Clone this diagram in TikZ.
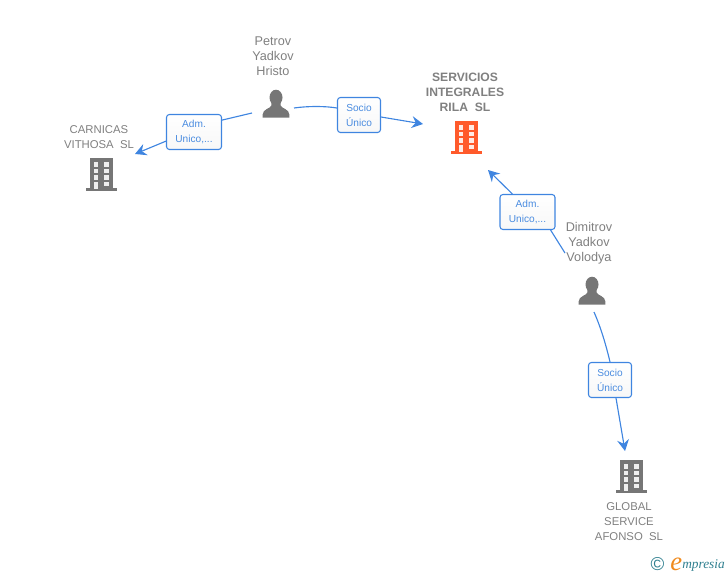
\documentclass[tikz,border=0pt]{standalone}
\usepackage{fontspec}
\setmainfont{Liberation Sans}
\newfontfamily\logofont{Liberation Serif}
\usetikzlibrary{arrows.meta}
\definecolor{linkblue}{HTML}{3F85E0}
\definecolor{labelblue}{HTML}{4A8CE0}
\definecolor{icongray}{HTML}{767676}
\definecolor{textgray}{HTML}{808080}
\definecolor{hotorange}{HTML}{FF5A2B}
\definecolor{logoteal}{HTML}{2F7F8F}
\definecolor{logoorange}{HTML}{F08A1D}
\tikzset{
  x=0.75pt,y=-0.75pt,
  nametext/.style={font=\fontsize{9.5pt}{11.25pt}\selectfont,text=textgray,align=center,inner sep=0pt},
  captext/.style={nametext,font=\fontsize{8.5pt}{11.25pt}\selectfont},
  boldtext/.style={nametext,font=\fontsize{9.1pt}{11.25pt}\selectfont\bfseries},
  linkbox/.style={draw=linkblue,line width=0.8pt,rounded corners=2.2pt,top color=white,bottom color=black!3,
    text=labelblue,font=\fontsize{7.6pt}{11.25pt}\selectfont,align=center,inner sep=0pt},
  link/.style={draw=linkblue,line width=0.85pt},
  arrowlink/.style={link,-{Stealth[length=8.5pt,width=9pt,inset=3pt]}},
  pics/building/.style={code={
    \fill[#1] (-11.5,0) rectangle (11.5,31);
    \fill[#1] (-15.5,30) rectangle (16,33);
    \foreach \yy in {4.2,10.8,17.4}{
      \fill[white!88!#1] (-7.5,\yy) rectangle (-3,\yy+4.4);
      \fill[white!88!#1] (2.5,\yy) rectangle (7.5,\yy+4.4);
    }
    \fill[white!88!#1] (-7.5,23.7) rectangle (-3,31);
    \fill[white!88!#1] (2.5,23.7) rectangle (7.5,28);
  }},
  pics/person/.style={code={
    \fill[icongray] (0,0) ellipse (6.5 and 7.8);
    \fill[icongray] (-4.6,4) -- (4.6,4) -- (4.6,8) .. controls (5.5,11) and (13.2,11.5) .. (13.4,17)
      -- (13.4,20) -- (-13.4,20) -- (-13.4,17) .. controls (-13.2,11.5) and (-5.5,11) .. (-4.6,8) -- cycle;
  }}
}
\begin{document}
\begin{tikzpicture}
\useasboundingbox (0,0) rectangle (728,575);

% names
\node[nametext] (petrov) at (273,56) {Petrov\\Yadkov\\Hristo};
\node[captext] (carnicas) at (99,137) {CARNICAS\\VITHOSA\ \ SL};
\node[boldtext] (servicios) at (465,92) {SERVICIOS\\INTEGRALES\\RILA\ \ SL};
\node[nametext] (dimitrov) at (589,243) {Dimitrov\\Yadkov\\Volodya};
\node[captext] (global) at (629,521.5) {GLOBAL\\SERVICE\\AFONSO\ \ SL};

% icons
\pic at (276,97.5) {person};
\pic at (592,284.5) {person};
\pic at (101,158) {building=icongray};
\pic at (466,121) {building=hotorange};
\pic at (631,460) {building=icongray};

% link labels
\node[linkbox,minimum width=55pt*0.75,minimum height=35pt*0.75] (adm1) at (194,132) {Adm.\\Unico,...};
\node[linkbox,minimum width=43pt*0.75,minimum height=35pt*0.75] (socio1) at (359,115) {Socio\\Único};
\node[linkbox,minimum width=55pt*0.75,minimum height=35pt*0.75] (adm2) at (527.5,212) {Adm.\\Unico,...};
\node[linkbox,minimum width=43pt*0.75,minimum height=35pt*0.75] (socio2) at (610,380) {Socio\\Único};

% free ends
\coordinate (p1) at (252,113);
\coordinate (c1) at (135,154);
\coordinate (p2) at (294,108);
\coordinate (s1) at (423,124);
\coordinate (d1) at (565,253);
\coordinate (s2) at (488,170);
\coordinate (d2) at (594,312);
\coordinate (g1) at (625,451);

% connectors
\draw[link] (p1) -- (adm1.23);
\draw[arrowlink] (adm1.198) -- (c1);
\draw[link] (p2) .. controls (308,106) and (325,106) .. (socio1.west |- 0,108);
\draw[arrowlink] (socio1.east |- 0,117) -- (s1);
\draw[link] (d1) -- (adm2.-38);
\draw[arrowlink] (adm2.130) -- (s2);
\draw[link] (d2) .. controls (601,328) and (606,345) .. (socio2.north -| 610,0);
\draw[arrowlink] (socio2.south -| 616,0) -- (g1);

% logo
\node[inner sep=0pt,text=logoteal,font=\fontsize{14pt}{14pt}\selectfont] (copyr) at (657.5,564) {\char"00A9};
\node[inner sep=0pt,anchor=base west,text=logoorange,font=\fontsize{20pt}{20pt}\logofont\itshape] (loge) at (670,570) {e};
\node[inner sep=0pt,anchor=base west,text=logoteal,font=\fontsize{10pt}{10pt}\logofont\itshape] (logr) at (682,568) {mpresia};
\end{tikzpicture}
\end{document}
